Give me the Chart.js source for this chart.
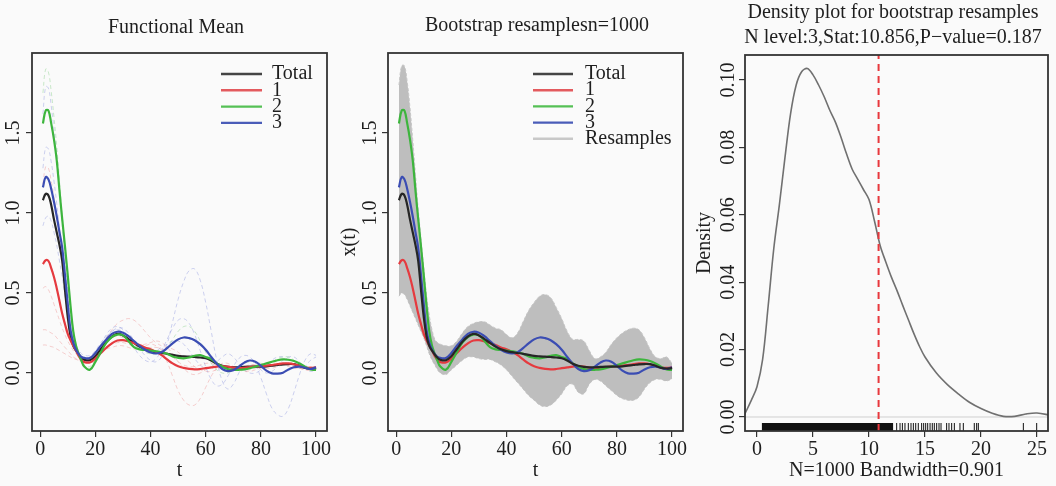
<!DOCTYPE html>
<html>
<head>
<meta charset="utf-8">
<script src="https://cdn.jsdelivr.net/npm/chart.js@4"></script>
<style>
  html, body { margin: 0; padding: 0; background: #fafafa; }
  .panel { position: absolute; top: 0; }
</style>
</head>
<body>
<div class="panel" style="left:0px"><canvas id="c1" width="340" height="486"></canvas></div>
<div class="panel" style="left:340px"><canvas id="c2" width="350" height="486"></canvas></div>
<div class="panel" style="left:690px"><canvas id="c3" width="366" height="486"></canvas></div>
<script>
Chart.defaults.font.family = "'Liberation Serif', 'Times New Roman', serif";
Chart.defaults.font.size = 20;
Chart.defaults.color = '#1e1e1e';
Chart.defaults.animation = false;

// time grid
const T = [1,2,3,4,5,6,7,8,9,10,11,12,13,14,15,16,
  18,20,22,24,26,28,30,32,34,36,38,40,
  42,44,46,48,50,52,54,56,58,60,62,64,
  66,68,70,72,74,76,78,80,82,84,86,88,
  90,92,94,96,98,100];

// group means
const total = [1.08,1.12,1.11,1.05,0.96,0.88,0.80,0.70,0.52,0.35,0.23,0.17,0.14,0.115,0.095,0.083,
  0.08,0.105,0.15,0.195,0.228,0.244,0.235,0.212,0.188,0.165,0.148,0.137,
  0.13,0.125,0.12,0.113,0.107,0.104,0.102,0.1,0.097,0.092,0.078,0.058,
  0.045,0.038,0.035,0.036,0.038,0.04,0.04,0.04,0.042,0.046,0.05,0.054,
  0.056,0.055,0.045,0.032,0.028,0.03];
const grp1 = [0.68,0.705,0.70,0.655,0.60,0.53,0.45,0.37,0.305,0.245,0.205,0.17,0.14,0.105,0.08,0.068,
  0.066,0.09,0.125,0.158,0.185,0.203,0.205,0.197,0.187,0.175,0.16,0.148,
  0.132,0.112,0.085,0.06,0.042,0.032,0.026,0.023,0.025,0.03,0.035,0.04,
  0.043,0.04,0.034,0.03,0.032,0.037,0.042,0.044,0.046,0.05,0.055,0.06,
  0.06,0.055,0.045,0.036,0.032,0.035];
const grp2 = [1.56,1.64,1.64,1.56,1.46,1.33,1.14,0.96,0.79,0.61,0.42,0.26,0.17,0.12,0.075,0.04,
  0.02,0.07,0.13,0.19,0.225,0.24,0.235,0.2,0.162,0.148,0.144,0.14,
  0.136,0.13,0.12,0.103,0.095,0.092,0.097,0.108,0.112,0.1,0.087,0.06,
  0.04,0.025,0.019,0.02,0.023,0.03,0.04,0.05,0.06,0.07,0.08,0.085,
  0.083,0.075,0.06,0.04,0.022,0.02];
const grp3 = [1.16,1.225,1.21,1.15,1.07,0.98,0.88,0.78,0.61,0.43,0.27,0.19,0.145,0.118,0.1,0.094,
  0.093,0.125,0.17,0.21,0.245,0.258,0.252,0.23,0.2,0.17,0.145,0.128,
  0.122,0.13,0.155,0.185,0.21,0.222,0.218,0.205,0.18,0.145,0.1,0.058,
  0.025,0.012,0.018,0.04,0.065,0.078,0.07,0.045,0.015,-0.002,-0.004,0.002,
  0.022,0.036,0.04,0.033,0.025,0.035];

// individual curves (faint, dashed)
const indA = [1.28,1.41,1.40,1.32,1.2,1.06,0.9,0.74,0.57,0.42,0.3,0.22,0.17,0.14,0.12,0.11,
  0.11,0.14,0.19,0.23,0.26,0.27,0.26,0.23,0.19,0.15,0.11,0.08,
  0.07,0.1,0.18,0.32,0.46,0.57,0.64,0.65,0.58,0.44,0.26,0.08,
  -0.05,-0.1,-0.07,0.0,0.06,0.08,0.05,-0.03,-0.13,-0.22,-0.26,-0.27,
  -0.22,-0.12,-0.01,0.08,0.12,0.11];
const indB = [1.75,1.9,1.88,1.76,1.6,1.42,1.2,0.98,0.78,0.58,0.4,0.27,0.18,0.12,0.08,0.05,
  0.04,0.08,0.14,0.2,0.24,0.26,0.25,0.22,0.18,0.15,0.13,0.12,
  0.12,0.13,0.16,0.21,0.26,0.29,0.29,0.26,0.2,0.13,0.06,0.02,
  0.0,0.0,0.02,0.04,0.06,0.07,0.07,0.06,0.06,0.07,0.09,0.1,
  0.1,0.08,0.05,0.03,0.02,0.02];
const indC = [1.62,1.79,1.78,1.67,1.52,1.35,1.14,0.93,0.72,0.52,0.36,0.24,0.16,0.12,0.1,0.09,
  0.1,0.13,0.18,0.24,0.28,0.29,0.27,0.22,0.16,0.11,0.08,0.07,
  0.09,0.14,0.21,0.28,0.33,0.34,0.31,0.24,0.14,0.04,-0.04,-0.08,
  -0.07,-0.02,0.04,0.09,0.11,0.1,0.06,0.02,0.0,0.01,0.04,0.08,
  0.1,0.1,0.07,0.03,0.01,0.02];
const indD = [1.18,1.29,1.28,1.2,1.1,0.98,0.85,0.7,0.55,0.4,0.28,0.2,0.14,0.1,0.08,0.07,
  0.08,0.11,0.15,0.19,0.22,0.23,0.22,0.2,0.18,0.17,0.17,0.18,
  0.17,0.14,0.07,-0.02,-0.11,-0.17,-0.2,-0.2,-0.16,-0.09,-0.02,0.03,
  0.06,0.06,0.04,0.02,0.01,0.01,0.02,0.03,0.04,0.05,0.06,0.06,
  0.05,0.04,0.03,0.02,0.02,0.03];
const indE = [0.53,0.54,0.52,0.48,0.43,0.38,0.33,0.28,0.24,0.2,0.17,0.14,0.12,0.1,0.09,0.09,
  0.1,0.13,0.17,0.22,0.27,0.31,0.33,0.34,0.33,0.3,0.26,0.22,
  0.19,0.17,0.16,0.15,0.13,0.1,0.07,0.04,0.02,0.01,0.01,0.02,
  0.03,0.04,0.04,0.03,0.02,0.02,0.03,0.04,0.05,0.06,0.06,0.05,
  0.04,0.03,0.03,0.03,0.04,0.04];
const indF = [0.27,0.27,0.26,0.25,0.24,0.22,0.2,0.18,0.16,0.14,0.12,0.1,0.09,0.08,0.07,0.07,
  0.08,0.1,0.13,0.16,0.18,0.19,0.19,0.18,0.17,0.17,0.18,0.19,
  0.2,0.19,0.16,0.12,0.07,0.03,0.0,-0.01,0.0,0.02,0.04,0.05,
  0.05,0.04,0.03,0.03,0.04,0.05,0.05,0.05,0.04,0.04,0.05,0.06,
  0.06,0.05,0.04,0.03,0.03,0.03];
const indG = [0.175,0.175,0.17,0.165,0.16,0.15,0.14,0.13,0.12,0.11,0.1,0.09,0.085,0.08,0.08,0.08,
  0.09,0.11,0.13,0.15,0.16,0.17,0.17,0.16,0.15,0.15,0.15,0.16,
  0.16,0.15,0.13,0.1,0.07,0.05,0.04,0.04,0.05,0.06,0.06,0.05,
  0.04,0.03,0.03,0.03,0.04,0.05,0.05,0.04,0.03,0.03,0.04,0.05,
  0.05,0.04,0.03,0.02,0.02,0.03];
const indH = [0.92,0.97,0.98,0.95,0.88,0.8,0.7,0.6,0.48,0.36,0.26,0.19,0.15,0.12,0.1,0.09,
  0.09,0.12,0.17,0.22,0.26,0.28,0.28,0.25,0.21,0.17,0.14,0.13,
  0.14,0.16,0.18,0.2,0.2,0.18,0.14,0.09,0.05,0.03,0.04,0.07,
  0.1,0.12,0.1,0.06,0.02,0.0,0.0,0.02,0.05,0.08,0.1,0.1,
  0.08,0.05,0.03,0.04,0.08,0.1];

// bootstrap resample envelope
const bootHi = [1.8,1.92,1.92,1.82,1.66,1.46,1.24,1.02,0.84,0.66,0.49,0.36,0.27,0.21,0.19,0.18,
  0.17,0.17,0.2,0.25,0.29,0.31,0.32,0.32,0.3,0.28,0.27,0.24,
  0.22,0.25,0.32,0.39,0.44,0.48,0.49,0.47,0.41,0.34,0.26,0.21,
  0.21,0.2,0.14,0.09,0.1,0.13,0.18,0.22,0.25,0.27,0.28,0.27,
  0.22,0.15,0.1,0.09,0.1,0.06];
const bootLo = [0.48,0.5,0.49,0.46,0.42,0.38,0.34,0.3,0.26,0.22,0.17,0.12,0.08,0.05,0.02,0.0,
  -0.01,0.02,0.05,0.08,0.1,0.1,0.09,0.085,0.085,0.07,0.05,0.02,
  -0.02,-0.06,-0.1,-0.14,-0.17,-0.2,-0.21,-0.2,-0.17,-0.13,-0.08,-0.07,
  -0.12,-0.13,-0.07,-0.04,-0.05,-0.08,-0.11,-0.14,-0.16,-0.17,-0.17,-0.15,
  -0.1,-0.06,-0.04,-0.04,-0.05,-0.035];

// density of bootstrap statistics
const densX = [-1.1,-0.5,0,0.5,1,1.5,2,2.5,3,3.5,4,4.5,5,5.5,6,6.5,7,7.5,8,8.5,
  9,9.5,10,10.5,11,11.5,12,12.5,13,13.5,14,14.5,15,16,17,18,19,20,21,22,23,24,25,26.2];
const densY = [0.0008,0.005,0.009,0.017,0.033,0.050,0.063,0.077,0.090,0.0985,
  0.1025,0.1034,0.1015,0.0985,0.095,0.091,0.0875,0.083,0.078,0.0735,
  0.0705,0.0675,0.0645,0.058,0.0508,0.046,0.0415,0.0375,0.0332,0.029,
  0.0248,0.021,0.0178,0.0131,0.0096,0.0068,0.0043,0.0025,0.0011,0.0002,
  0.0002,0.0009,0.0012,0.0005];
const rugDense = [0.42, 12.17];
const rugSparse = [12.47,12.77,12.98,13.21,13.51,13.75,13.96,14.17,14.4,14.7,14.88,15.06,15.24,
  15.45,15.65,15.83,16.04,16.25,16.43,16.93,17.14,17.38,17.62,18.12,18.42,19.4,19.61,19.76,23.78,24.97];
const statValue = 10.856;

// ticks
const tTicks = [0,20,40,60,80,100];
const tTickLabels = ['0','20','40','60','80','100'];
const xtTicks = [0,0.5,1,1.5];
const xtTickLabels = ['0.0','0.5','1.0','1.5'];
const dTicksX = [0,5,10,15,20,25];
const dTickLabelsX = ['0','5','10','15','20','25'];
const dTicksY = [0,0.02,0.04,0.06,0.08,0.10];
const dTickLabelsY = ['0.00','0.02','0.04','0.06','0.08','0.10'];

const RED = '#e53a3f', GREEN = '#3db53d', BLUE = '#3b4db3', BLACK = '#262626';

function curve(vals, color, width, dash) {
  return {
    data: T.map((t, i) => ({x: t, y: vals[i]})),
    borderColor: color, borderWidth: width, borderDash: dash || [],
    pointRadius: 0, tension: 0.4, fill: false
  };
}

function axes(o) {
  const grid = {display: true, drawOnChartArea: false, drawTicks: true, tickLength: 6, color: '#333', lineWidth: 1.2};
  return {
    x: {
      type: 'linear', min: o.xmin, max: o.xmax,
      afterBuildTicks: s => { s.ticks = o.xt.map(v => ({value: v})); },
      afterFit: s => { s.height = 55; },
      grid: grid, border: {display: false},
      ticks: {padding: 1, maxRotation: 0, autoSkip: false, callback: (v, i) => o.xl[i]},
      title: {display: true, text: o.xtitle, padding: {top: 0, bottom: 3}}
    },
    y: {
      type: 'linear', min: o.ymin, max: o.ymax,
      afterBuildTicks: s => { s.ticks = o.yt.map(v => ({value: v})); },
      afterFit: s => { s.width = o.yw; },
      grid: grid, border: {display: false},
      ticks: {minRotation: 90, maxRotation: 90, crossAlign: 'center', padding: o.yp, autoSkip: false,
        callback: (v, i) => o.yl[i]},
      title: {display: !!o.ytitle, text: o.ytitle || '', padding: {top: o.ytp || 0, bottom: 0}, font: {lineHeight: 1}}
    }
  };
}

// box around plot + titles + legend
function decor(titles, legend) {
  return {
    id: 'decor',
    afterDraw(chart) {
      const a = chart.chartArea, c = chart.ctx;
      c.save();
      c.strokeStyle = '#333'; c.lineWidth = 1.8;
      c.strokeRect(a.left, a.top, a.right - a.left, a.bottom - a.top);
      c.font = "20px 'Liberation Serif'";
      c.fillStyle = '#1e1e1e';
      c.textBaseline = 'middle';
      c.textAlign = 'center';
      titles.forEach(t => c.fillText(t.text, t.x, t.y));
      if (legend) {
        legend.items.forEach((it, i) => {
          const y = legend.y + i * legend.dy;
          c.strokeStyle = it.color; c.lineWidth = 2.4;
          c.beginPath(); c.moveTo(legend.x0, y); c.lineTo(legend.x1, y); c.stroke();
          c.textAlign = 'left';
          c.fillText(it.label, legend.tx, y);
        });
      }
      c.restore();
    }
  };
}

const legendItems = [
  {label: 'Total', color: '#444'},
  {label: '1', color: '#e35a5e'},
  {label: '2', color: '#55c055'},
  {label: '3', color: '#4a5cb8'}
];

// panel 1: functional mean
const faintBlue = 'rgba(110,120,215,0.33)', faintRed = 'rgba(235,115,115,0.33)', faintGreen = 'rgba(100,195,100,0.33)';
new Chart(document.getElementById('c1'), {
  type: 'line',
  data: {datasets: [
    curve(grp3, BLUE, 2.2),
    curve(grp2, GREEN, 2.2),
    curve(grp1, RED, 2.2),
    curve(total, BLACK, 2.2),
    curve(indA, faintBlue, 1, [4, 3]),
    curve(indB, faintGreen, 1, [4, 3]),
    curve(indC, faintBlue, 1, [4, 3]),
    curve(indD, faintRed, 1, [4, 3]),
    curve(indE, faintRed, 1, [4, 3]),
    curve(indF, faintRed, 1, [4, 3]),
    curve(indG, faintRed, 1, [4, 3]),
    curve(indH, faintBlue, 1, [4, 3])
  ]},
  options: {
    responsive: false,
    layout: {padding: {left: 0, right: 13, top: 53, bottom: 0}},
    plugins: {legend: {display: false}, tooltip: {enabled: false}},
    scales: axes({xmin: -2.96, xmax: 103.96, xt: tTicks, xl: tTickLabels, xtitle: 't',
      ymin: -0.3625, ymax: 2.0, yt: xtTicks, yl: xtTickLabels, yw: 32, yp: 0})
  },
  plugins: [decor([{text: 'Functional Mean', x: 176, y: 28}],
    {items: legendItems, x0: 221, x1: 262, tx: 272, y: 74, dy: 16.3})]
});

// panel 2: bootstrap resamples
new Chart(document.getElementById('c2'), {
  type: 'line',
  data: {datasets: [
    curve(total, BLACK, 2.2),
    curve(grp3, BLUE, 2.2),
    curve(grp2, GREEN, 2.2),
    curve(grp1, RED, 2.2),
    Object.assign(curve(bootHi, '#c6c6c6', 1, [3, 2]), {fill: '+1', backgroundColor: '#bebebe'}),
    curve(bootLo, '#c6c6c6', 1, [3, 2])
  ]},
  options: {
    responsive: false,
    layout: {padding: {left: 0, right: 7, top: 53, bottom: 0}},
    plugins: {legend: {display: false}, tooltip: {enabled: false}},
    scales: axes({xmin: -2.96, xmax: 103.96, xt: tTicks, xl: tTickLabels, xtitle: 't',
      ymin: -0.3625, ymax: 2.0, yt: xtTicks, yl: xtTickLabels, yw: 48, yp: -1, ytitle: 'x(t)', ytp: 0})
  },
  plugins: [decor([{text: 'Bootstrap resamplesn=1000', x: 197, y: 26}],
    {items: legendItems.concat([{label: 'Resamples', color: '#c8c8c8'}]), x0: 193, x1: 233, tx: 245, y: 74, dy: 16.2})]
});

// panel 3: density of bootstrap statistic
const D_YMIN = -0.00415, D_YMAX = 0.1074, D_XMIN = -1.07, D_XMAX = 25.98;
const RUG_TOP = -0.00178;
new Chart(document.getElementById('c3'), {
  type: 'line',
  data: {datasets: [
    {data: [{x: statValue, y: D_YMIN}, {x: statValue, y: D_YMAX}], borderColor: '#e8383d', borderWidth: 2,
      borderDash: [7, 5], pointRadius: 0, fill: false},
    {data: densX.map((x, i) => ({x, y: densY[i]})), borderColor: '#707070', borderWidth: 1.6,
      pointRadius: 0, tension: 0.35, fill: false},
    {data: [{x: D_XMIN, y: 0}, {x: D_XMAX, y: 0}], borderColor: '#cfcfcf', borderWidth: 1, pointRadius: 0, fill: false},
    {data: rugSparse.map(x => ({x, y: (RUG_TOP + D_YMIN) / 2})), showLine: false,
      pointStyle: 'line', pointRotation: 90, pointRadius: 4, pointBorderColor: '#111', pointBorderWidth: 1},
    {data: rugDense.map(x => ({x, y: D_YMIN})), borderWidth: 0, pointRadius: 0, fill: false},
    {data: rugDense.map(x => ({x, y: RUG_TOP})), borderWidth: 0, pointRadius: 0, fill: '-1', backgroundColor: '#111'}
  ]},
  options: {
    responsive: false,
    layout: {padding: {left: 0, right: 8, top: 55, bottom: 0}},
    plugins: {legend: {display: false}, tooltip: {enabled: false}},
    scales: axes({xmin: D_XMIN, xmax: D_XMAX, xt: dTicksX, xl: dTickLabelsX, xtitle: 'N=1000 Bandwidth=0.901',
      ymin: D_YMIN, ymax: D_YMAX, yt: dTicksY, yl: dTickLabelsY, yw: 55, yp: -7, ytitle: 'Density', ytp: 5})
  },
  plugins: [decor([
    {text: 'Density plot for bootstrap resamples', x: 203, y: 13},
    {text: 'N level:3,Stat:10.856,P\u2212value=0.187', x: 203, y: 38}
  ], null)]
});
</script>
</body>
</html>
